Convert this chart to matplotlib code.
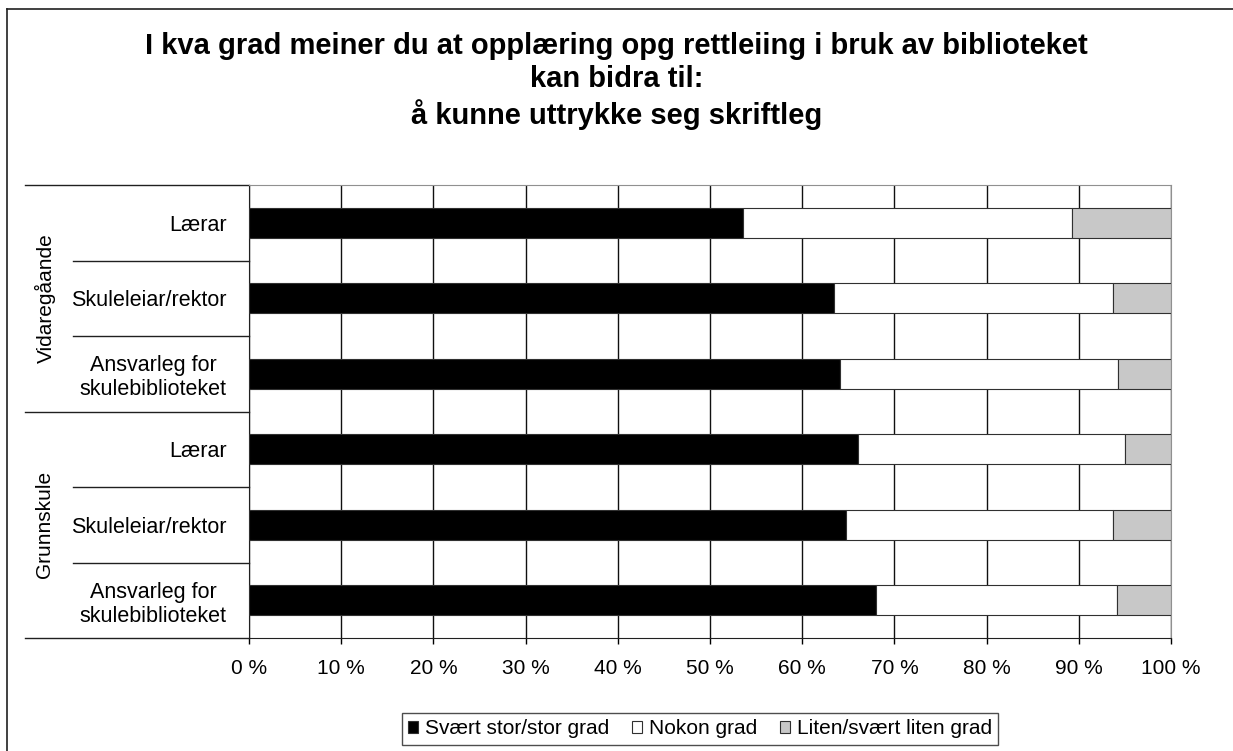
import matplotlib
matplotlib.use('Agg')
import matplotlib.pyplot as plt
import numpy as np
from matplotlib.patches import Patch
from matplotlib.lines import Line2D
from matplotlib.transforms import blended_transform_factory

plt.rcParams['font.family'] = ['Liberation Sans', 'DejaVu Sans']

title = ("I kva grad meiner du at opplæring opg rettleiing i bruk av biblioteket\n"
         "kan bidra til:\nå kunne uttrykke seg skriftleg")
groups = ['Vidaregåande', 'Grunnskule']
roles = ['Lærar', 'Skuleleiar/rektor', 'Ansvarleg for\nskulebiblioteket']
series_names = ['Svært stor/stor grad', 'Nokon grad', 'Liten/svært liten grad']
svart_stor = [53.6, 63.4, 64.1, 66.0, 64.7, 68.0]
nokon = [35.7, 30.3, 30.2, 29.0, 29.0, 26.1]
liten = [10.7, 6.3, 5.7, 5.0, 6.3, 5.9]
colors = ['#000000', '#ffffff', '#c8c8c8']

labels = roles * len(groups)
y = np.arange(len(labels))

fig = plt.figure(figsize=(12.33, 7.51), dpi=100)
ax = fig.add_axes([249 / 1233, 1 - 638 / 751, 922 / 1233, 453 / 751])

left = np.zeros(len(labels))
for vals, col in zip([svart_stor, nokon, liten], colors):
    ax.barh(y, vals, left=left, height=0.4, color=col, edgecolor='#303030',
            linewidth=0.8, zorder=3)
    left = left + np.array(vals)

ax.set_xlim(0, 100)
ax.set_ylim(len(labels) - 0.5, -0.5)
ax.set_xticks(np.arange(0, 101, 10))
ax.set_xticklabels([f'{v} %' for v in range(0, 101, 10)], fontsize=15)
ax.tick_params(axis='x', direction='out', length=4, width=1, pad=11)
ax.set_yticks(y)
ax.set_yticklabels(labels, fontsize=15.5, multialignment='center')
ax.tick_params(axis='y', length=0, pad=16)
ax.grid(axis='x', color='#101010', linewidth=1, zorder=0)
ax.set_axisbelow(True)
for s in ['top', 'right']:
    ax.spines[s].set_color('#909090')
ax.spines['left'].set_color('#202020')
ax.spines['bottom'].set_color('#202020')

# category separators on the left
tr = blended_transform_factory(fig.transFigure, ax.transData)
n = len(roles)
for b in np.arange(len(labels) + 1) - 0.5:
    x0 = 25 / 1233 if (b + 0.5) % n == 0 else 73 / 1233
    ax.plot([x0, 249 / 1233], [b, b], transform=tr, color='#202020',
            linewidth=1, clip_on=False)
for i, g in enumerate(groups):
    ax.text(45 / 1233, i * n + (n - 1) / 2, g, transform=tr, rotation=90,
            ha='center', va='center', fontsize=15)

fig.text(0.5, 1 - 81 / 751, title, ha='center', va='center', fontsize=21,
         fontweight='bold', linespacing=1.22)

# outer frame (top and left visible)
fig.add_artist(Line2D([7 / 1233, 7 / 1233], [0, 1 - 9 / 751], color='#202020', linewidth=1.2))
fig.add_artist(Line2D([7 / 1233, 1], [1 - 9 / 751, 1 - 9 / 751], color='#202020', linewidth=1.2))

handles = [Patch(facecolor=c, edgecolor='#303030', linewidth=0.8) for c in colors]
leg = fig.legend(handles, series_names, loc='center left', bbox_to_anchor=(402 / 1233, 1 - 729 / 751),
                 ncol=3, fontsize=15, frameon=True, fancybox=False, shadow=False,
                 handlelength=0.48, handleheight=0.48, handletextpad=0.32,
                 columnspacing=1.1, borderpad=0.3, borderaxespad=0)
leg.get_frame().set_edgecolor('#202020')
leg.get_frame().set_linewidth(1)

fig.savefig('out.png', dpi=100)
